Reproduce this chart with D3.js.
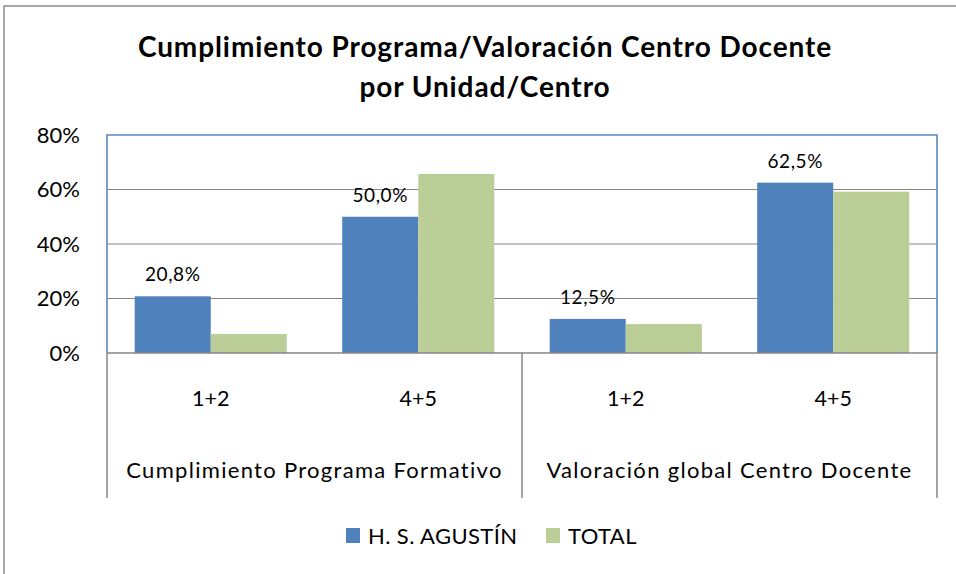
<!DOCTYPE html>
<html>
<head>
<meta charset="utf-8">
<script src="https://cdn.jsdelivr.net/npm/d3@7"></script>
<style>
  html, body { margin: 0; padding: 0; background: #fff; }
  svg { display: block; font-family: Lato, "Open Sans", sans-serif; }
</style>
</head>
<body>
<svg id="chart" width="956" height="574"></svg>
<script>
// Data
const groups = ["Cumplimiento Programa Formativo", "Valoración global Centro Docente"];
const levels = ["1+2", "4+5"];
const seriesNames = ["H. S. AGUSTÍN", "TOTAL"];
const agustin = [0.208, 0.500, 0.125, 0.625];
const total = [0.070, 0.657, 0.106, 0.592];
const yTicks = [0, 0.2, 0.4, 0.6, 0.8];
const titleLines = ["Cumplimiento Programa/Valoración Centro Docente", "por Unidad/Centro"];

const colors = ["#4F81BD", "#BBCE97"];

const categories = [];
groups.forEach(g => levels.forEach(l => categories.push({ group: g, level: l, key: g + "|" + l })));
const values = [agustin, total];

const svg = d3.select("#chart");
const W = 956, H = 574;

// outer chart frame
svg.append("rect").attr("x", 4).attr("y", 6).attr("width", W + 10).attr("height", H + 10)
  .attr("fill", "#fff").attr("stroke", "#8c8c8c").attr("stroke-width", 1.5);

// title
const title = svg.append("text").attr("text-anchor", "middle")
  .attr("font-weight", "bold").attr("font-size", 28).attr("letter-spacing", 0.9).attr("fill", "#000");
titleLines.forEach((t, i) => {
  title.append("tspan").attr("x", 485).attr("y", 57 + i * 40).text(t);
});

const plot = { left: 107, right: 937, top: 135, bottom: 353 };

const x = d3.scaleBand().domain(categories.map(d => d.key))
  .range([plot.left, plot.right]).paddingInner(0.267).paddingOuter(0.1335);
const xs = d3.scaleBand().domain(seriesNames).range([0, x.bandwidth()]);
const y = d3.scaleLinear().domain([0, 0.8]).range([plot.bottom, plot.top]);

// gridlines
svg.append("g").selectAll("line").data(yTicks.filter(t => t > 0 && t < 0.8)).join("line")
  .attr("x1", plot.left).attr("x2", plot.right)
  .attr("y1", d => y(d)).attr("y2", d => y(d))
  .attr("stroke", "#868686").attr("stroke-width", 1.2);

// y axis labels
const yAxis = svg.append("g").attr("transform", `translate(${plot.left},0)`)
  .call(d3.axisLeft(y).tickValues(yTicks).tickFormat(d3.format(".0%")).tickSize(0).tickPadding(27));
yAxis.select(".domain").remove();
yAxis.selectAll("text").attr("font-size", 22).attr("fill", "#000")
  .attr("font-family", "Lato, 'Open Sans', sans-serif");

// bars
const barData = [];
categories.forEach((c, i) => seriesNames.forEach((s, j) => barData.push({ key: c.key, series: s, idx: j, value: values[j][i] })));
svg.append("g").selectAll("rect").data(barData).join("rect")
  .attr("x", d => x(d.key) + xs(d.series))
  .attr("y", d => y(d.value))
  .attr("width", xs.bandwidth())
  .attr("height", d => y(0) - y(d.value))
  .attr("fill", d => colors[d.idx]);

// value labels on the H. S. AGUSTÍN bars
const esFormat = d3.formatLocale({ decimal: ",", thousands: ".", grouping: [3], currency: ["", " €"] }).format(".1%");
svg.append("g").selectAll("text").data(barData.filter(d => d.idx === 0)).join("text")
  .attr("x", d => x(d.key) + xs(d.series) + xs.bandwidth() / 2)
  .attr("y", d => y(d.value) - 15)
  .attr("text-anchor", "middle").attr("font-size", 19).attr("letter-spacing", 0.6).attr("fill", "#000")
  .text(d => esFormat(d.value));

// plot area border
svg.append("path")
  .attr("d", `M${plot.left},${plot.bottom} V${plot.top} H${plot.right} V${plot.bottom}`)
  .attr("fill", "none").attr("stroke", "#5B87C0").attr("stroke-width", 1.6);

// category axis line and group separators
svg.append("line").attr("x1", plot.left).attr("x2", plot.right)
  .attr("y1", plot.bottom).attr("y2", plot.bottom)
  .attr("stroke", "#868686").attr("stroke-width", 1.5);
const step = x.step();
const sepX = [plot.left, plot.left + step * levels.length, plot.right];
svg.append("g").selectAll("line").data(sepX).join("line")
  .attr("x1", d => d).attr("x2", d => d)
  .attr("y1", plot.bottom).attr("y2", 498)
  .attr("stroke", "#868686").attr("stroke-width", 1.5);

// level labels
svg.append("g").selectAll("text").data(categories).join("text")
  .attr("x", d => x(d.key) + x.bandwidth() / 2).attr("y", 406)
  .attr("text-anchor", "middle").attr("font-size", 21.5).attr("fill", "#000")
  .text(d => d.level);

// group labels
svg.append("g").selectAll("text").data(groups).join("text")
  .attr("x", (d, i) => (sepX[i] + sepX[i + 1]) / 2).attr("y", 478)
  .attr("text-anchor", "middle").attr("font-size", 22).attr("fill", "#000")
  .attr("letter-spacing", 1.3)
  .text(d => d);

// legend
const legendX = [346, 546];
const legend = svg.append("g").selectAll("g").data(seriesNames).join("g")
  .attr("transform", (d, i) => `translate(${legendX[i]},528)`);
legend.append("rect").attr("width", 14).attr("height", 15).attr("fill", (d, i) => colors[i]);
legend.append("text").attr("x", 22).attr("y", 16).attr("font-size", 22).attr("letter-spacing", 0.4)
  .attr("fill", "#000").text(d => d);
</script>
</body>
</html>
